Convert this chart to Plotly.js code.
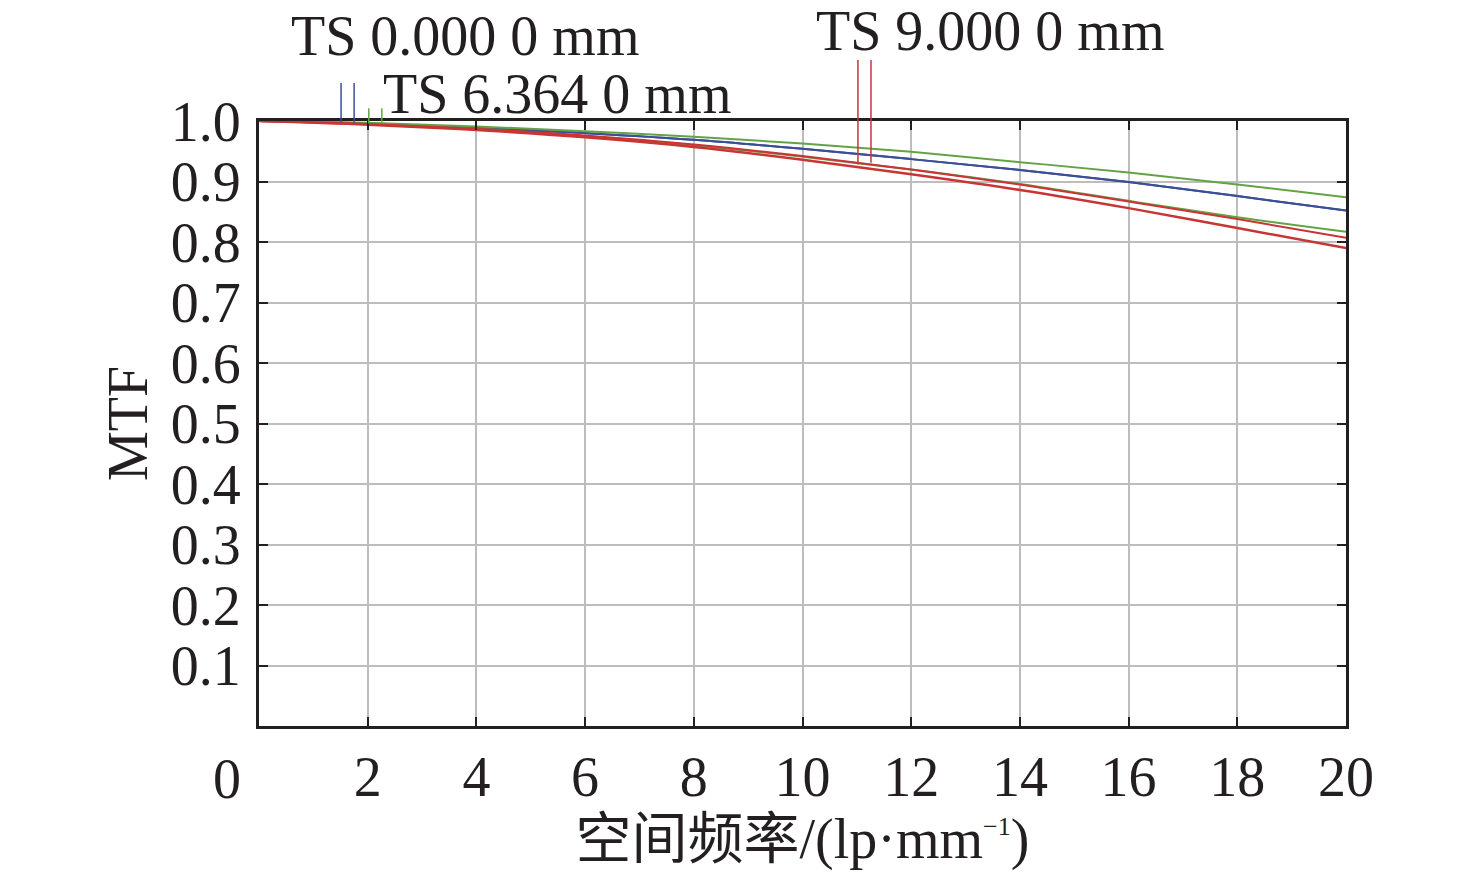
<!DOCTYPE html>
<html>
<head>
<meta charset="utf-8">
<script src="https://cdn.plot.ly/plotly-3.0.1.min.js"></script>
<style>
  html, body { margin: 0; padding: 0; background: #fff; }
  #mtf { width: 1476px; height: 876px; }
</style>
</head>
<body>
<div id="mtf"></div>
<script>
// spatial frequency, lp/mm
const freq = [0, 2, 4, 6, 8, 10, 12, 14, 16, 18, 20];

// MTF values
const field0 = [1.000, 0.996, 0.989, 0.980, 0.969, 0.954, 0.937, 0.919, 0.899, 0.876, 0.852];
const field6T = [1.000, 0.997, 0.991, 0.983, 0.974, 0.963, 0.949, 0.932, 0.915, 0.895, 0.874];
const field6S = [1.000, 0.995, 0.987, 0.975, 0.960, 0.941, 0.920, 0.896, 0.868, 0.841, 0.817];
const field9T = [1.000, 0.995, 0.987, 0.976, 0.961, 0.942, 0.920, 0.895, 0.867, 0.838, 0.807];
const field9S = [1.000, 0.994, 0.985, 0.973, 0.957, 0.936, 0.912, 0.886, 0.856, 0.823, 0.790];

const xTicks = [2, 4, 6, 8, 10, 12, 14, 16, 18, 20];
const yTicks = [0.1, 0.2, 0.3, 0.4, 0.5, 0.6, 0.7, 0.8, 0.9, 1.0];
const yTickText = ["0.1", "0.2", "0.3", "0.4", "0.5", "0.6", "0.7", "0.8", "0.9", "1.0"];

const BLUE = "#3b4f96";
const GREEN = "#62a445";
const RED = "#c93434";
const FONT = "Liberation Serif, Times New Roman, Noto Sans CJK SC, serif";
const FS = 56;

function curve(y, color, w) {
    return {
        x: freq,
        y: y,
        mode: "lines",
        line: { color: color, width: w, shape: "spline" },
        hoverinfo: "skip",
        showlegend: false
    };
}

const traces = [
    curve(field0, BLUE, 2),
    curve(field0, BLUE, 2),
    curve(field6T, GREEN, 2),
    curve(field6S, GREEN, 2),
    curve(field9T, RED, 2),
    curve(field9S, RED, 2.5)
];

// little marker ticks next to the field labels
function marker(x, yTop, yBot, color) {
    return {
        type: "line",
        xref: "x", yref: "paper",
        x0: x, x1: x, y0: yBot, y1: yTop,
        line: { color: color, width: 1.5 }
    };
}

const layout = {
    width: 1476,
    height: 876,
    margin: { l: 259, r: 130, t: 121, b: 150 },
    paper_bgcolor: "#fff",
    plot_bgcolor: "#fff",
    font: { family: FONT, size: FS, color: "#231f20" },
    xaxis: {
        range: [0, 20],
        tickvals: xTicks,
        ticks: "inside",
        ticklen: 9,
        tickwidth: 2,
        tickcolor: "#231f20",
        ticklabelstandoff: 0,
        showgrid: true,
        gridcolor: "#bdbdbd",
        gridwidth: 2,
        showline: true,
        linecolor: "#231f20",
        linewidth: 3,
        mirror: "ticks",
        zeroline: false,
        title: {
            text: "空间频率/(lp·mm<sup><span style=\"font-size:26px\">−1</span></sup>)",
            font: { family: FONT, size: 56 },
            standoff: 6
        }
    },
    yaxis: {
        range: [0, 1],
        tickvals: yTicks,
        ticktext: yTickText,
        ticks: "inside",
        ticklen: 9,
        tickwidth: 2,
        tickcolor: "#231f20",
        ticklabelstandoff: 4,
        showgrid: true,
        gridcolor: "#bdbdbd",
        gridwidth: 2,
        showline: true,
        linecolor: "#231f20",
        linewidth: 3,
        mirror: "ticks",
        zeroline: false,
        title: {
            text: "MTF",
            font: { family: FONT, size: FS },
            standoff: 6
        }
    },
    annotations: [
        { text: "0", xref: "x", yref: "paper", x: 0, y: 0, xanchor: "center", yanchor: "top",
          xshift: -32, yshift: -20, showarrow: false },
        { text: "TS 0.000 0 mm", xref: "x", yref: "paper", x: 0.55, y: 1.14,
          xanchor: "left", yanchor: "middle", showarrow: false },
        { text: "TS 6.364 0 mm", xref: "x", yref: "paper", x: 2.25, y: 1.044,
          xanchor: "left", yanchor: "middle", showarrow: false },
        { text: "TS 9.000 0 mm", xref: "x", yref: "paper", x: 10.22, y: 1.149,
          xanchor: "left", yanchor: "middle", showarrow: false }
    ],
    shapes: [
        marker(1.51, 1.063, 0.997, BLUE),
        marker(1.75, 1.063, 0.997, BLUE),
        marker(2.02, 1.021, 0.996, GREEN),
        marker(2.26, 1.021, 0.996, GREEN),
        marker(11.02, 1.101, 0.928, RED),
        marker(11.26, 1.101, 0.931, RED)
    ]
};

Plotly.newPlot("mtf", traces, layout, { displayModeBar: false, staticPlot: true });
</script>
</body>
</html>
